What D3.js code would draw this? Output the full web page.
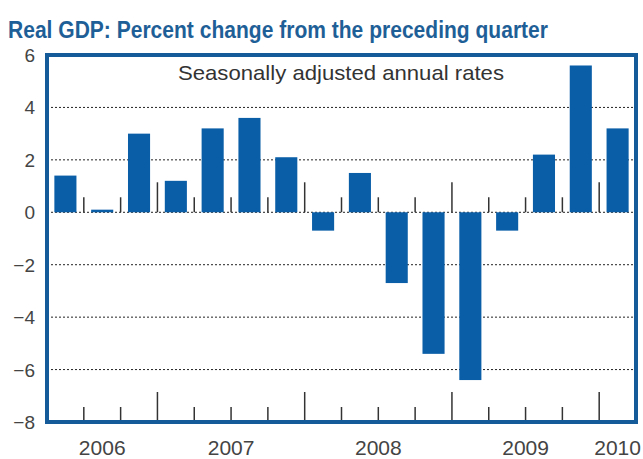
<!DOCTYPE html>
<html>
<head>
<meta charset="utf-8">
<script src="https://cdn.jsdelivr.net/npm/d3@7"></script>
<style>
  body { margin: 0; background: #fff; }
  svg { display: block; }
  .grid { stroke: #222; stroke-width: 1; stroke-dasharray: 2,2; }
  .qtick { stroke: #333; stroke-width: 1.5; }
  .ylab, .xlab { font-family: "Liberation Sans", Arial, sans-serif; fill: #444; }
</style>
</head>
<body>
<svg id="chart" width="643" height="459"></svg>
<script>
// quarters 2006Q2 .. 2010Q1
var quarters = ["2006Q2","2006Q3","2006Q4",
                "2007Q1","2007Q2","2007Q3","2007Q4",
                "2008Q1","2008Q2","2008Q3","2008Q4",
                "2009Q1","2009Q2","2009Q3","2009Q4",
                "2010Q1"];
var gdp = [1.4, 0.1, 3.0,
           1.2, 3.2, 3.6, 2.1,
           -0.7, 1.5, -2.7, -5.4,
           -6.4, -0.7, 2.2, 5.6,
           3.2];
var years = ["2006", "2007", "2008", "2009", "2010"];
var yTicks = [6, 4, 2, 0, -2, -4, -6, -8];

var svg = d3.select("#chart");

// plot box (window.top is reserved, so use other names)
var plotLeft = 47, plotRight = 636, plotTop = 55, plotBottom = 422;

var x = d3.scaleBand()
          .domain(quarters)
          .range([plotLeft, plotRight])
          .paddingInner(0.4)
          .paddingOuter(0.2);

var slot = (plotRight - plotLeft) / quarters.length;

var y = d3.scaleLinear()
          .domain([-8, 6])
          .range([plotBottom, plotTop]);

// title
svg.append("text")
   .attr("x", 8)
   .attr("y", 38)
   .attr("textLength", 540)
   .attr("lengthAdjust", "spacingAndGlyphs")
   .style("font-family", "'Liberation Sans Narrow', 'Liberation Sans', Arial, sans-serif")
   .style("font-weight", "bold")
   .style("font-size", "23px")
   .style("fill", "#1f5f97")
   .text("Real GDP: Percent change from the preceding quarter");

// dotted grid lines
svg.selectAll("line.grid")
   .data(yTicks.filter(d => d > -8 && d < 6))
   .enter()
   .append("line")
   .attr("class", "grid")
   .attr("x1", plotLeft).attr("x2", plotRight)
   .attr("y1", d => y(d)).attr("y2", d => y(d));

// bars
svg.selectAll("rect.bar")
   .data(gdp)
   .enter()
   .append("rect")
   .attr("class", "bar")
   .attr("x", (d, i) => x(quarters[i]))
   .attr("width", x.bandwidth())
   .attr("y", d => y(Math.max(0, d)))
   .attr("height", d => Math.abs(y(d) - y(0)))
   .attr("fill", "#0a5ea8");

// quarter ticks on the zero line and on the bottom edge
var tickData = d3.range(1, quarters.length);
function drawTicks(base) {
    svg.selectAll(null)
       .data(tickData)
       .enter()
       .append("line")
       .attr("class", "qtick")
       .attr("x1", i => plotLeft + i * slot)
       .attr("x2", i => plotLeft + i * slot)
       .attr("y1", base)
       .attr("y2", i => base - (quarters[i].endsWith("Q1") ? 30 : 15));
}
drawTicks(y(0));
drawTicks(plotBottom);

// frame
svg.append("rect")
   .attr("x", plotLeft).attr("y", plotTop)
   .attr("width", plotRight - plotLeft).attr("height", plotBottom - plotTop)
   .attr("fill", "none")
   .attr("stroke", "#155b99")
   .attr("stroke-width", 4);

// y labels
svg.selectAll("text.ylab")
   .data(yTicks)
   .enter()
   .append("text")
   .attr("class", "ylab")
   .attr("x", 35)
   .attr("y", d => y(d) + 7)
   .attr("text-anchor", "end")
   .style("font-size", "19px")
   .text(d => d < 0 ? "\u2212" + Math.abs(d) : d);

// year labels centred on their quarters
svg.selectAll("text.xlab")
   .data(years)
   .enter()
   .append("text")
   .attr("class", "xlab")
   .attr("x", function(yr) {
       var qs = quarters.filter(q => q.startsWith(yr));
       var a = x(qs[0]) - x.step() * x.paddingInner() / 2;
       var b = x(qs[qs.length - 1]) + x.bandwidth() + x.step() * x.paddingInner() / 2;
       return (a + b) / 2;
   })
   .attr("y", 455)
   .attr("text-anchor", "middle")
   .style("font-size", "21px")
   .text(d => d);

// subtitle
svg.append("text")
   .attr("x", 341)
   .attr("y", 80)
   .attr("text-anchor", "middle")
   .attr("textLength", 326)
   .attr("lengthAdjust", "spacingAndGlyphs")
   .style("font-family", "'Liberation Sans', Arial, sans-serif")
   .style("font-size", "21px")
   .style("fill", "#333")
   .text("Seasonally adjusted annual rates");
</script>
</body>
</html>
